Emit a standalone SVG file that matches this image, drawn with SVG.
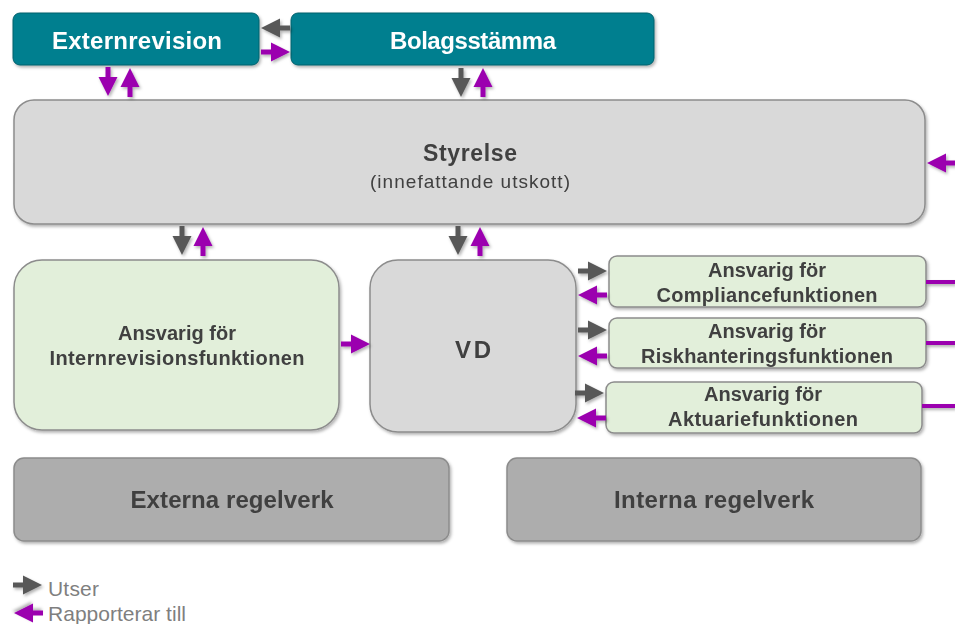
<svg xmlns="http://www.w3.org/2000/svg" xmlns:xlink="http://www.w3.org/1999/xlink" width="955" height="624" viewBox="0 0 955 624">
<style>
text{font-family:"Liberation Sans",Arial,sans-serif;}
.teal{fill:#037F8F;stroke:#02606C;stroke-width:1;}
.gray{fill:#D9D9D9;stroke:#8C8C8C;stroke-width:1.5;}
.green{fill:#E2EFDA;stroke:#8C8C8C;stroke-width:1.5;}
.dark{fill:#ADADAD;stroke:#8C8C8C;stroke-width:1.5;}
.tw{fill:#FFFFFF;font-weight:bold;font-size:24px;text-anchor:middle;}
.tb{fill:#404040;font-weight:bold;text-anchor:middle;}
.tn{fill:#404040;text-anchor:middle;}
.lg{fill:#7F7F7F;font-size:21px;}
.ag{fill:#595959;}
.ap{fill:#9B00AF;}
.ln{stroke:#9B00AF;stroke-width:4;fill:none;}
</style>
<defs>
<filter id="sh" x="-10%" y="-10%" width="120%" height="130%">
<feDropShadow dx="1.5" dy="2" stdDeviation="1.5" flood-color="#000" flood-opacity="0.3"/>
</filter>
<path id="arr" d="M-29,-2.5 H-19 V-9.5 L0,0 L-19,9.5 V2.5 H-29 Z"/>
</defs>

<g id="externrevision" filter="url(#sh)">
<rect class="teal" x="13" y="13" width="246" height="52" rx="7"/>
<text class="tw" x="137" y="49" textLength="170" lengthAdjust="spacing">Externrevision</text>
</g>
<g id="bolagsstamma" filter="url(#sh)">
<rect class="teal" x="291" y="13" width="363" height="52" rx="7"/>
<text class="tw" x="473" y="49" textLength="166" lengthAdjust="spacing">Bolagsstämma</text>
</g>
<g id="styrelse" filter="url(#sh)">
<rect class="gray" x="14" y="100" width="911" height="124" rx="20"/>
<text class="tb" x="470" y="161" font-size="23" textLength="94" lengthAdjust="spacing">Styrelse</text>
<text class="tn" x="470" y="188" font-size="19" textLength="200" lengthAdjust="spacing">(innefattande utskott)</text>
</g>
<g id="internrevision" filter="url(#sh)">
<rect class="green" x="14" y="260" width="325" height="170" rx="28"/>
<text class="tb" x="177" y="340" font-size="20" textLength="118" lengthAdjust="spacing">Ansvarig för</text>
<text class="tb" x="177" y="365" font-size="20" textLength="255" lengthAdjust="spacing">Internrevisionsfunktionen</text>
</g>
<g id="vd" filter="url(#sh)">
<rect class="gray" x="370" y="260" width="206" height="172" rx="28"/>
<text class="tb" x="473" y="358" font-size="24" textLength="36" lengthAdjust="spacing">VD</text>
</g>
<g id="compliance" filter="url(#sh)">
<rect class="green" x="609" y="256" width="317" height="51" rx="8"/>
<text class="tb" x="767" y="277" font-size="20" textLength="118" lengthAdjust="spacing">Ansvarig för</text>
<text class="tb" x="767" y="302" font-size="20" textLength="221" lengthAdjust="spacing">Compliancefunktionen</text>
</g>
<g id="riskhantering" filter="url(#sh)">
<rect class="green" x="609" y="318" width="317" height="50" rx="8"/>
<text class="tb" x="767" y="338" font-size="20" textLength="118" lengthAdjust="spacing">Ansvarig för</text>
<text class="tb" x="767" y="363" font-size="20" textLength="252" lengthAdjust="spacing">Riskhanteringsfunktionen</text>
</g>
<g id="aktuarie" filter="url(#sh)">
<rect class="green" x="606" y="382" width="316" height="51" rx="8"/>
<text class="tb" x="763" y="401" font-size="20" textLength="118" lengthAdjust="spacing">Ansvarig för</text>
<text class="tb" x="763" y="426" font-size="20" textLength="190" lengthAdjust="spacing">Aktuariefunktionen</text>
</g>
<g id="externa" filter="url(#sh)">
<rect class="dark" x="14" y="458" width="435" height="83" rx="10"/>
<text class="tb" x="232" y="508" font-size="24" textLength="203" lengthAdjust="spacing">Externa regelverk</text>
</g>
<g id="interna" filter="url(#sh)">
<rect class="dark" x="507" y="458" width="414" height="83" rx="10"/>
<text class="tb" x="714" y="508" font-size="24" textLength="200" lengthAdjust="spacing">Interna regelverk</text>
</g>

<g id="connectors" filter="url(#sh)">
<use xlink:href="#arr" class="ag" transform="translate(261,28) rotate(180)"/>
<use xlink:href="#arr" class="ap" transform="translate(290,52)"/>
<use xlink:href="#arr" class="ap" transform="translate(108,96) rotate(90)"/>
<use xlink:href="#arr" class="ap" transform="translate(130,68) rotate(-90)"/>
<use xlink:href="#arr" class="ag" transform="translate(461,97) rotate(90)"/>
<use xlink:href="#arr" class="ap" transform="translate(483,68) rotate(-90)"/>
<use xlink:href="#arr" class="ap" transform="translate(927,163) rotate(180)"/>
<use xlink:href="#arr" class="ag" transform="translate(182,255) rotate(90)"/>
<use xlink:href="#arr" class="ap" transform="translate(203,227) rotate(-90)"/>
<use xlink:href="#arr" class="ag" transform="translate(458,255) rotate(90)"/>
<use xlink:href="#arr" class="ap" transform="translate(480,227) rotate(-90)"/>
<use xlink:href="#arr" class="ap" transform="translate(370,344)"/>
<use xlink:href="#arr" class="ag" transform="translate(607,271)"/>
<use xlink:href="#arr" class="ap" transform="translate(578,295) rotate(180)"/>
<use xlink:href="#arr" class="ag" transform="translate(607,330)"/>
<use xlink:href="#arr" class="ap" transform="translate(578,356) rotate(180)"/>
<use xlink:href="#arr" class="ag" transform="translate(604,393)"/>
<use xlink:href="#arr" class="ap" transform="translate(577,418) rotate(180)"/>
<line class="ln" x1="926" y1="282" x2="955" y2="282"/>
<line class="ln" x1="926" y1="343" x2="955" y2="343"/>
<line class="ln" x1="922" y1="406" x2="955" y2="406"/>
</g>

<g id="legend">
<use xlink:href="#arr" class="ag" filter="url(#sh)" transform="translate(42,585)"/>
<text class="lg" x="48" y="596" textLength="51" lengthAdjust="spacing">Utser</text>
<use xlink:href="#arr" class="ap" filter="url(#sh)" transform="translate(14,613) rotate(180)"/>
<text class="lg" x="48" y="621" textLength="138" lengthAdjust="spacing">Rapporterar till</text>
</g>
</svg>
